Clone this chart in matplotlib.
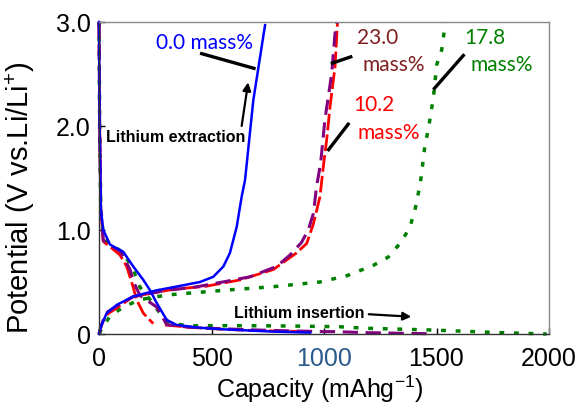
import numpy as np
import matplotlib
matplotlib.use("Agg")
import matplotlib.pyplot as plt

# ---------------- data (capacity mAh/g, potential V) ----------------
blue_dis_x = [0, 3, 8, 19, 49, 108, 152, 197, 227, 256, 301, 345, 450, 552, 774, 938]
blue_dis_y = [3.0, 2.0, 1.2, 1.0, 0.86, 0.79, 0.65, 0.52, 0.42, 0.30, 0.135, 0.087, 0.06, 0.045, 0.023, 0.013]
blue_chg_x = [0, 10, 34, 79, 152, 256, 330, 449, 508, 553, 582, 612, 634, 649, 686, 738]
blue_chg_y = [0, 0.08, 0.2, 0.28, 0.36, 0.42, 0.45, 0.50, 0.55, 0.65, 0.78, 1.03, 1.32, 1.48, 2.25, 2.97]

red_dis_x = [0, 3, 8, 19, 60, 93, 123, 152, 167, 197, 241, np.nan, 293, 400, 552, 700, 923]
red_dis_y = [3.0, 2.0, 1.2, 0.89, 0.82, 0.76, 0.65, 0.45, 0.33, 0.2, 0.10, np.nan, 0.087, 0.065, 0.045, 0.033, 0.023]
red_chg_x = [0, 10, 30, 79, 152, 330, 478, 627, 775, 878, 923, 953, 982, 997, 1012, 1027, 1049, 1060]
red_chg_y = [0, 0.08, 0.18, 0.25, 0.36, 0.43, 0.46, 0.52, 0.62, 0.78, 0.87, 1.06, 1.32, 1.61, 1.87, 2.19, 2.57, 3.0]

purple_dis_x = [0, 3, 8, 19, 50, 93, 138, 152, 182, 256, 301, 400, 552, 750, 997, 1041, 1190, 1367, 1456]
purple_dis_y = [3.0, 2.0, 1.2, 0.9, 0.85, 0.80, 0.62, 0.51, 0.37, 0.26, 0.09, 0.065, 0.05, 0.035, 0.023, 0.023, 0.013, 0.006, 0.003]
purple_chg_x = [0, 10, 30, 79, 152, 300, 424, 550, 671, 790, 849, 900, 930, 953, 967, 985, 1004, 1034, 1049, 1058]
purple_chg_y = [0, 0.08, 0.2, 0.27, 0.36, 0.42, 0.45, 0.50, 0.55, 0.65, 0.76, 0.88, 1.0, 1.16, 1.42, 1.64, 2.06, 2.5, 2.89, 3.0]

green_dis_x = [0, 3, 8, 20, 49, 108, 152, 182, 227, 271, 315, 404, 641, 849, 1067, 1190, 1486, 1782, 1990]
green_dis_y = [3.0, 2.0, 1.2, 0.92, 0.87, 0.78, 0.62, 0.45, 0.33, 0.2, 0.1, 0.08, 0.08, 0.077, 0.07, 0.055, 0.038, 0.013, 0.0]
green_chg_x = [0, 20, 49, 108, 182, 301, 553, 775, 982, 1101, 1219, 1286, 1345, 1382, 1404, 1419, 1430, 1449, 1463, 1486, 1501, 1523, 1533, 1540]
green_chg_y = [0, 0.08, 0.17, 0.26, 0.33, 0.375, 0.42, 0.455, 0.50, 0.56, 0.66, 0.74, 0.89, 1.03, 1.19, 1.35, 1.48, 1.82, 1.96, 2.27, 2.59, 2.73, 2.89, 3.0]

x_ticks = [0, 500, 1000, 1500, 2000]
x_tick_labels = ["0", "500", "1000", "1500", "2000"]
y_ticks = [0, 1.0, 2.0, 3.0]
y_tick_labels = ["0", "1.0", "2.0", "3.0"]

# ---------------- figure ----------------
fig = plt.figure(figsize=(5.86, 4.05), dpi=100)
ax = fig.add_axes([99 / 586, 1 - 334 / 405, 450 / 586, 312 / 405])

green_ls = (0, (1.4, 2.8))
for xs, ys in [(green_dis_x, green_dis_y), (green_chg_x, green_chg_y)]:
    ax.plot(xs, ys, color="#008000", lw=2.5, ls=green_ls, dash_capstyle="butt", clip_on=False)
for xs, ys in [(red_dis_x, red_dis_y), (red_chg_x, red_chg_y)]:
    ax.plot(xs, ys, color="#FF0000", lw=2.0, ls=(0, (6, 1.5)), clip_on=False)
for xs, ys in [(purple_dis_x, purple_dis_y), (purple_chg_x, purple_chg_y)]:
    ax.plot(xs, ys, color="#800080", lw=2.2, ls=(0, (5, 2.5)), clip_on=False)
for xs, ys in [(blue_dis_x, blue_dis_y), (blue_chg_x, blue_chg_y)]:
    ax.plot(xs, ys, color="#0000FF", lw=1.8, clip_on=False)

ax.set_xlim(0, 2000)
ax.set_ylim(0, 3.0)
ax.set_xticks(x_ticks)
ax.set_xticklabels(x_tick_labels)
ax.set_yticks(y_ticks)
ax.set_yticklabels(y_tick_labels)
ax.get_xticklabels()[2].set_color("#2B5A8C")

tickfont = "Liberation Sans"
for lab in ax.get_xticklabels() + ax.get_yticklabels():
    lab.set_fontfamily(tickfont)
    lab.set_fontsize(18)
ax.tick_params(axis="x", direction="in", length=4, width=1, pad=9)
ax.tick_params(axis="y", direction="in", length=4, width=1, pad=6)

for s in ["top", "right"]:
    ax.spines[s].set_color("#888888")
    ax.spines[s].set_linewidth(1.0)
for s in ["left", "bottom"]:
    ax.spines[s].set_color("#333333")
    ax.spines[s].set_linewidth(1.0)

ax.set_xlabel("Capacity (mAhg$^{\\mathregular{-1}}$)", fontfamily=tickfont, fontsize=18)
ax.set_ylabel("Potential (V vs.Li/Li$^{\\mathregular{+}}$)", fontfamily=tickfont, fontsize=21)
ax.xaxis.set_label_coords(0.49, -0.128)
ax.yaxis.set_label_coords(-0.137, 0.436)

# ---------------- annotations ----------------
afont = "Lato"
ax.text(471, 2.80, "0.0 mass%", color="#0000FF", fontsize=15, fontfamily=afont, ha="center", va="center")
ax.plot([449, 696], [2.70, 2.55], color="black", lw=2.4, solid_capstyle="butt")

ax.text(1240, 2.85, "23.0", color="#7F1F1F", fontsize=15, fontfamily=afont, ha="center", va="center")
ax.text(1311, 2.59, "mass%", color="#7F1F1F", fontsize=15, fontfamily=afont, ha="center", va="center")
ax.plot([1030, 1126], [2.60, 2.67], color="black", lw=2.4, solid_capstyle="butt")

ax.text(1222, 2.20, "10.2", color="#FF0000", fontsize=15, fontfamily=afont, ha="center", va="center")
ax.text(1289, 1.93, "mass%", color="#FF0000", fontsize=15, fontfamily=afont, ha="center", va="center")
ax.plot([1016, 1112], [1.76, 2.03], color="black", lw=2.4, solid_capstyle="butt")

ax.text(1716, 2.85, "17.8", color="#008000", fontsize=15, fontfamily=afont, ha="center", va="center")
ax.text(1791, 2.59, "mass%", color="#008000", fontsize=15, fontfamily=afont, ha="center", va="center")
ax.plot([1486, 1624], [2.35, 2.69], color="black", lw=2.4, solid_capstyle="butt")

ax.text(342, 1.885, "Lithium extraction", color="black", fontsize=11.5, fontweight="bold",
        fontfamily=tickfont, ha="center", va="center")
ax.annotate("", xy=(663, 2.42), xytext=(634, 2.0),
            arrowprops=dict(arrowstyle="-|>", color="black", lw=1.6, mutation_scale=12, shrinkA=0, shrinkB=0))

ax.text(889, 0.20, "Lithium insertion", color="black", fontsize=11.5, fontweight="bold",
        fontfamily=tickfont, ha="center", va="center")
ax.annotate("", xy=(1388, 0.166), xytext=(1199, 0.19),
            arrowprops=dict(arrowstyle="-|>", color="black", lw=1.6, mutation_scale=12, shrinkA=0, shrinkB=0))

fig.savefig("out.png", dpi=100)
